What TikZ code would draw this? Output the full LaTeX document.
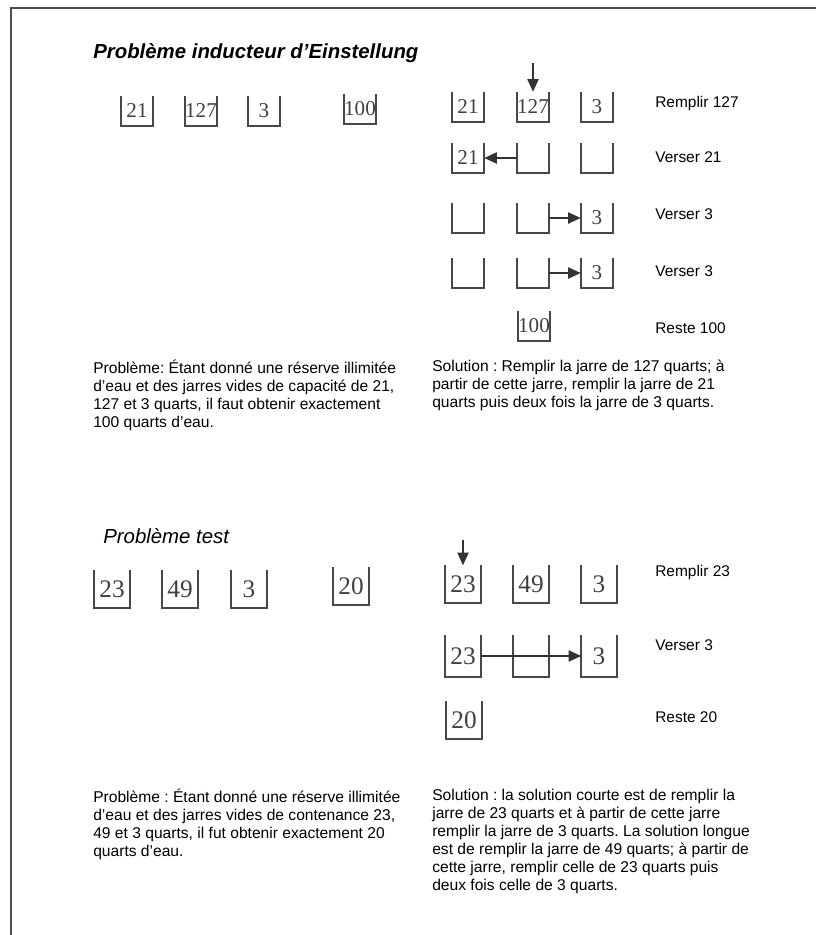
\documentclass[tikz,border=0pt]{standalone}
\usepackage{fontspec}
\setsansfont{Liberation Sans}
\newfontfamily\jarfont{Liberation Serif}
\usetikzlibrary{arrows.meta}
\frenchspacing

\tikzset{
  jarline/.style={line width=1.3pt, draw=black!72},
  jar/.style={minimum width=0.8cm, minimum height=0.75cm, inner sep=0pt,
    font=\jarfont\fontsize{15}{15}\selectfont, text=black!75,
    append after command={\pgfextra{\draw[jarline] (\tikzlastnode.north west)
      |- (\tikzlastnode.south east) -- (\tikzlastnode.north east);}}},
  bigjar/.style={jar, minimum width=0.875cm, minimum height=0.925cm,
    font=\jarfont\fontsize{18}{18}\selectfont},
  pour/.style={line width=1.1pt, draw=black!80, -{Triangle[length=9pt,width=8pt]}},
  action/.style={anchor=west, inner sep=0pt, font=\sffamily\fontsize{11}{13}\selectfont},
  bloc/.style={anchor=north west, inner sep=0pt, align=left,
    font=\sffamily\fontsize{11.1}{12.8}\selectfont},
  titre/.style={anchor=west, inner sep=0pt, font=\sffamily\fontsize{14.5}{16}\selectfont},
}

\begin{document}
\begin{tikzpicture}[x=0.025cm, y=-0.025cm]
    \useasboundingbox (0,0) rectangle (816,935);

    % Cadre
    \draw[line width=1.4pt, black!70] (11,935) -- (11,8) -- (816,8);

    % Problème inducteur
    \node[titre, font=\sffamily\bfseries\itshape\fontsize{14.5}{16}\selectfont] (t1) at (93,53) {Problème inducteur d’Einstellung};
    \node[jar] (a21) at (137,111) {21};
    \node[jar] (a127) at (201,111) {127};
    \node[jar] (a3) at (264,111) {3};
    \node[jar] (a100) at (360,109) {100};

    % Solution : les étapes
    \node[jar] (b21) at (468,107) {21};
    \node[jar] (b127) at (533,107) {127};
    \node[jar] (b3) at (597,107) {3};
    \coordinate (b0) at (533,63);
    \draw[pour] (b0) -- (b127);
    \node[action] (l1) at (655,103) {Remplir 127};

    \node[jar] (c21) at (468,158) {21};
    \node[jar] (c127) at (533,158) {};
    \node[jar] (c3) at (597,158) {};
    \draw[pour] (c127.west) -- (c21.east);
    \node[action] (l2) at (655,157) {Verser 21};

    \node[jar] (d21) at (468,218) {};
    \node[jar] (d127) at (533,218) {};
    \node[jar] (d3) at (597,218) {3};
    \draw[pour] (d127.east) -- (d3.west);
    \node[action] (l3) at (655,214) {Verser 3};

    \node[jar] (e21) at (468,273) {};
    \node[jar] (e127) at (533,273) {};
    \node[jar] (e3) at (597,273) {3};
    \draw[pour] (e127.east) -- (e3.west);
    \node[action] (l4) at (655,271) {Verser 3};

    \node[jar] (f127) at (534,326) {100};
    \node[action] (l5) at (655,328) {Reste 100};

    % Textes du premier problème
    \node[bloc] (p1) at (93,360) {Problème: Étant donné une réserve illimitée\\
      d’eau et des jarres vides de capacité de 21,\\
      127 et 3 quarts, il faut obtenir exactement\\
      100 quarts d’eau.};
    \node[bloc] (s1) at (432,360) {Solution : Remplir la jarre de 127 quarts; à\\
      partir de cette jarre, remplir la jarre de 21\\
      quarts puis deux fois la jarre de 3 quarts.};

    % Problème test
    \node[titre, font=\sffamily\itshape\fontsize{14.5}{16}\selectfont] (t2) at (103,536) {Problème test};
    \node[bigjar] (g23) at (112,589) {23};
    \node[bigjar] (g49) at (180,589) {49};
    \node[bigjar] (g3) at (249,589) {3};
    \node[bigjar] (g20) at (351,586) {20};

    \node[bigjar] (h23) at (463,584) {23};
    \node[bigjar] (h49) at (531,584) {49};
    \node[bigjar] (h3) at (599,584) {3};
    \coordinate (h0) at (463,540);
    \draw[pour] (h0) -- (h23);
    \node[action] (m1) at (655,572) {Remplir 23};

    \node[bigjar, minimum height=1.05cm] (i23) at (463,656) {23};
    \node[bigjar, minimum height=1.05cm] (i49) at (531,656) {};
    \node[bigjar, minimum height=1.05cm] (i3) at (599,656) {3};
    \draw[pour] (i23.east) -- (i3.west);
    \node[action] (m2) at (655,645) {Verser 3};

    \node[bigjar] (j20) at (464,720) {20};
    \node[action] (m3) at (655,717) {Reste 20};

    % Textes du problème test
    \node[bloc] (p2) at (93,789) {Problème : Étant donné une réserve illimitée\\
      d’eau et des jarres vides de contenance 23,\\
      49 et 3 quarts, il fut obtenir exactement 20\\
      quarts d’eau.};
    \node[bloc] (s2) at (432,789) {Solution : la solution courte est de remplir la\\
      jarre de 23 quarts et à partir de cette jarre\\
      remplir la jarre de 3 quarts. La solution longue\\
      est de remplir la jarre de 49 quarts; à partir de\\
      cette jarre, remplir celle de 23 quarts puis\\
      deux fois celle de 3 quarts.};
\end{tikzpicture}
\end{document}
